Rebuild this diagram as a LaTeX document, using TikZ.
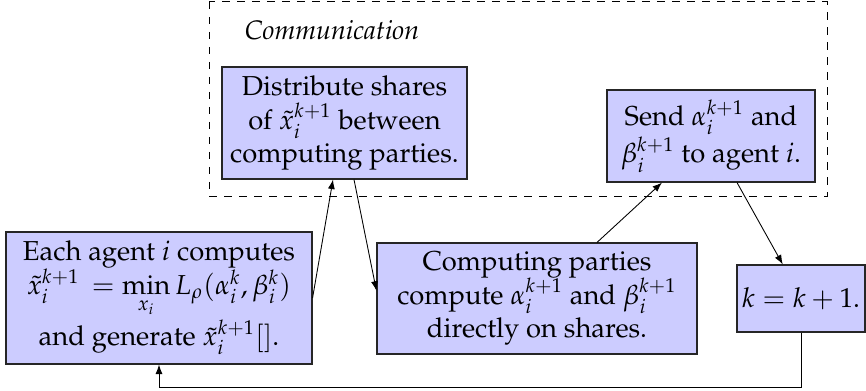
\documentclass[tikz,border=0pt]{standalone}
\usepackage[T1]{fontenc}
\usepackage{mathpazo}
\usetikzlibrary{arrows.meta,calc}
\begin{document}
\begin{tikzpicture}[x=0.4pt,y=-0.4pt,
  box/.style={draw=black!85, fill=blue!20, line width=0.45pt, align=center, inner sep=0pt, font=\fontsize{10.95}{13.4}\selectfont},
  conn/.style={-{Latex[length=3.8pt,width=2.8pt]}, line width=0.35pt},
  grp/.style={draw, dashed, line width=0.4pt}]
\useasboundingbox (0,0) rectangle (866,391);
\draw[grp] (209,2) rectangle (827,197);
\node[font=\fontsize{10.7}{12.5}\selectfont\itshape] (comm) at (332,30) {Communication};
\node[box, minimum width=122.4pt, minimum height=52.8pt] (A) at (159,298)
  {Each agent $i$ computes\\ $\tilde{x}_i^{k+1}\,= \min\limits_{x_i} L_\rho(\alpha_i^k,\beta_i^k)$\\ and generate $\tilde{x}_i^{k+1}[]$.};
\node[box, minimum width=98pt, minimum height=44.8pt] (D) at (344.5,123)
  {Distribute shares\\ of $\tilde{x}_i^{k+1}$ between\\ computing parties.};
\node[box, minimum width=83.2pt, minimum height=36.8pt] (S) at (711,136)
  {Send $\alpha_i^{k+1}$ and\\ $\beta_i^{k+1}$ to agent $i$.};
\node[box, minimum width=128pt, minimum height=44.4pt] (C) at (537,298.5)
  {Computing parties\\ compute $\alpha_i^{k+1}$ and $\beta_i^{k+1}$\\ directly on shares.};
\node[box, minimum width=51.2pt, minimum height=26.8pt] (K) at (801,298.5)
  {$k = k+1.$};
\draw[conn] (A.east) -- ([xshift=-4.6pt]D.south);
\draw[conn] ([xshift=3.8pt]D.south) -- ([yshift=3.1pt]C.west);
\draw[conn] ([xshift=24pt]C.north) -- ([xshift=-19.6pt]S.south);
\draw[conn] ([xshift=10.4pt]S.south) -- ([xshift=-7.3pt]K.north);
\draw[conn] (K.south) -- ++(0,-22pt) -| (A.south);
\end{tikzpicture}
\end{document}
